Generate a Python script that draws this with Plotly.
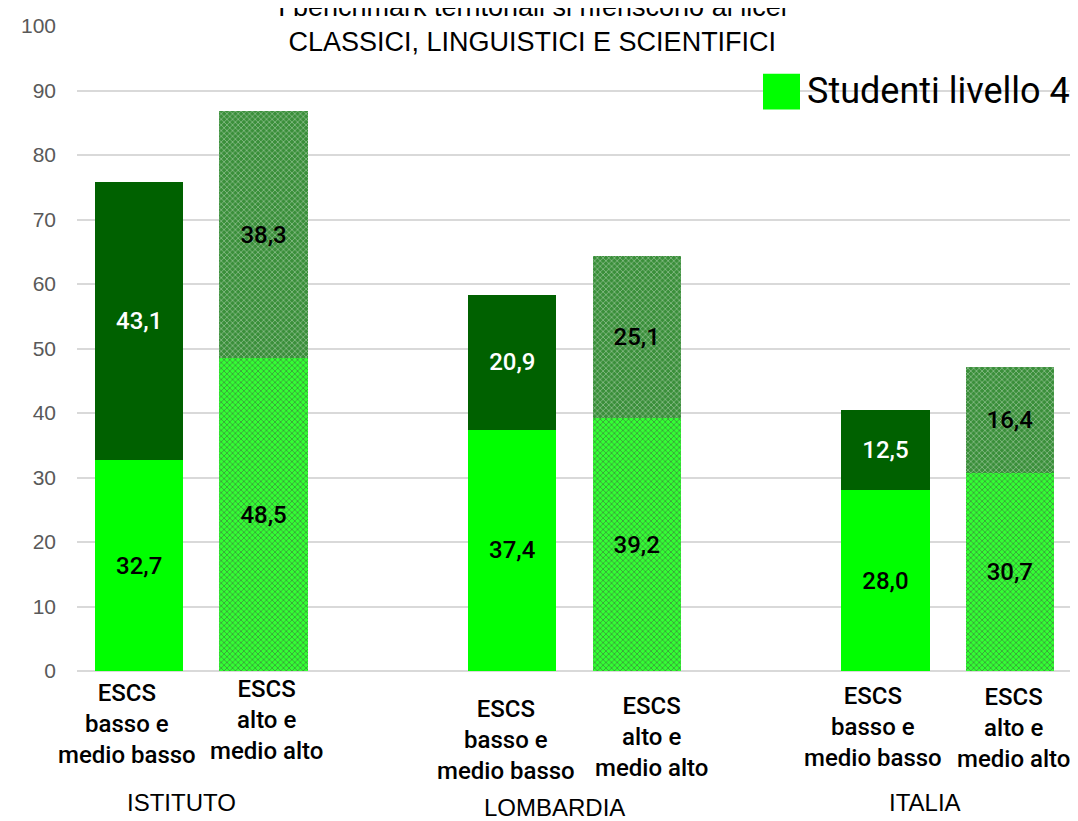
import plotly.graph_objects as go

# dati
gruppi = ['ISTITUTO', 'LOMBARDIA', 'ITALIA']
fasce = ['ESCS<br>basso e<br>medio basso', 'ESCS<br>alto e<br>medio alto']
livello4 = [32.7, 48.5, 37.4, 39.2, 28.0, 30.7]
livello3 = [43.1, 38.3, 20.9, 25.1, 12.5, 16.4]
titolo = 'I benchmark territoriali si riferiscono ai licei<br>CLASSICI, LINGUISTICI E SCIENTIFICI'
legenda = 'Studenti livello 4'

# posizioni: 2 barre per gruppo, uno spazio vuoto tra i gruppi
xpos = [g * 3 + i for g in range(len(gruppi)) for i in range(len(fasce))]
alto = [i == 1 for g in range(len(gruppi)) for i in range(len(fasce))]
pattern = ['x' if a else '' for a in alto]
col_top = ['black' if a else 'white' for a in alto]
col_scuro = ['#3a8f3a' if a else '#006100' for a in alto]
col_chiaro = ['#33ff33' if a else '#00FF00' for a in alto]

VERDE = '#00FF00'
W, H = 1070, 813          # la pagina ha 8px di margine
L, R, T, B = 69, 6, 15, 150
PW, PH = W - L - R, H - T - B


def px(x):
    return (x - 8 - L) / PW


def py(y):
    return (H - B - (y - 8)) / PH


lab_font = dict(family='Roboto, Liberation Sans', size=24, color='black', weight=500)

fig = go.Figure()
fig.add_trace(go.Bar(
    x=xpos, y=livello4, name=legenda, width=0.71,
    marker=dict(color=col_chiaro, line=dict(width=0),
                pattern=dict(shape=pattern, fillmode='overlay', fgcolor='white',
                             fgopacity=0.7, size=4, solidity=0.3)),
    texttemplate='%{y:.1f}', textposition='inside', insidetextanchor='middle',
    textfont=lab_font))
fig.add_trace(go.Bar(
    x=xpos, y=livello3, name='Studenti livello 3', width=0.71,
    marker=dict(color=col_scuro, line=dict(width=0),
                pattern=dict(shape=pattern, fillmode='overlay', fgcolor='white',
                             fgopacity=0.5, size=4, solidity=0.3)),
    texttemplate='%{y:.1f}', textposition='inside', insidetextanchor='middle',
    textfont=dict(family='Roboto, Liberation Sans', size=24, color=col_top, weight=500)))

# etichette asse x (a diverse altezze come nell'originale)
lab_y = [724, 720, 740, 737, 727, 728]
lab_dx = [-12, 3, -6, 15, -12, 4]
for k, x in enumerate(xpos):
    fig.add_annotation(x=x, y=py(lab_y[k]), xref='x', yref='paper', text=fasce[k % 2],
                       showarrow=False, yanchor='middle', xshift=lab_dx[k], font=lab_font)
grp_y = [803, 808, 803]
grp_dx = [-20, -20, -23]
for g, nome in enumerate(gruppi):
    fig.add_annotation(x=g * 3 + 0.5, y=py(grp_y[g]), xref='x', yref='paper', text=nome,
                       showarrow=False, yanchor='middle', xshift=grp_dx[g],
                       font=dict(family='Liberation Sans Narrow, Liberation Sans', size=24, color='black'))

# titolo (tagliato in alto come nell'originale)
fig.add_annotation(x=px(532), y=py(21), xref='paper', yref='paper', text=titolo,
                   showarrow=False, yanchor='middle',
                   font=dict(family='Liberation Sans Narrow, Liberation Sans', size=27, color='black'))

# legenda
fig.add_shape(type='rect', xref='paper', yref='paper',
              x0=px(763), x1=px(800), y0=py(107), y1=py(71),
              line=dict(width=0), fillcolor=VERDE)
fig.add_annotation(x=px(805), y=py(88), xref='paper', yref='paper',
                   text=legenda, showarrow=False, xanchor='left', yanchor='middle',
                   font=dict(family='Roboto, Liberation Sans', size=36, color='black'))

fig.update_layout(
    width=W, height=H,
    margin=dict(l=L, r=R, t=T, b=B),
    barmode='stack', separators=',.',
    plot_bgcolor='white', paper_bgcolor='white',
    font=dict(family='Liberation Sans', color='#595959'),
    xaxis=dict(range=[-0.5, 7.5], showticklabels=False, showgrid=False, zeroline=False),
    yaxis=dict(range=[0, 100], dtick=10, gridcolor='#d9d9d9', gridwidth=1.5,
               zeroline=True, zerolinecolor='#d9d9d9', zerolinewidth=1.5,
               tickfont=dict(size=21, color='#595959'), ticks='', ticklabelstandoff=20),
    showlegend=False,
)

fig.write_html('out.html')
